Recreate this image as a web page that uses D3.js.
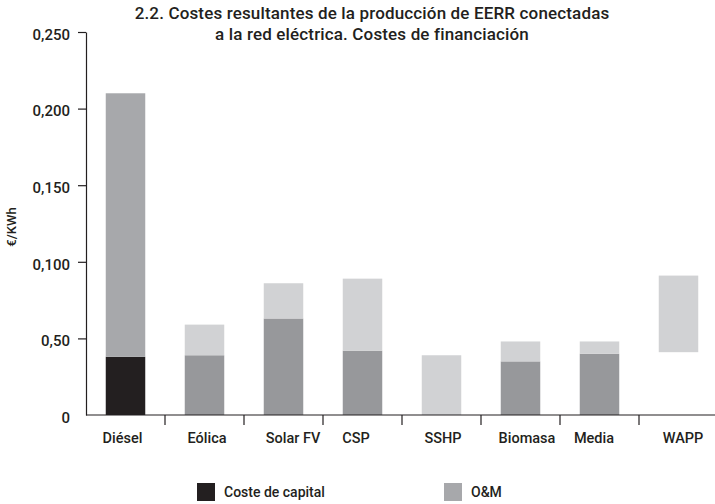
<!DOCTYPE html>
<html>
<head>
<meta charset="utf-8">
<script src="https://cdn.jsdelivr.net/npm/d3@7"></script>
<style>
  html, body { margin: 0; padding: 0; background: #fff; }
  svg text { font-family: Roboto, "Noto Sans", sans-serif; fill: #231f20; }
</style>
</head>
<body>
<svg id="chart" width="715" height="504"></svg>
<script>
// Technologies on the horizontal axis
const categories = ["Diésel", "Eólica", "Solar FV", "CSP", "SSHP", "Biomasa", "Media", "WAPP"];
// Lower segment (capital cost), €/KWh; null = not shown
const capital = [0.038, 0.039, 0.063, 0.042, 0, 0.035, 0.040, null];
// Upper segment start and end, €/KWh
const upperFrom = [0.038, 0.039, 0.063, 0.042, 0, 0.035, 0.040, 0.041];
const upperTo = [0.210, 0.059, 0.086, 0.089, 0.039, 0.048, 0.048, 0.091];
// Y axis ticks and their printed labels
const yTicks = [0, 0.05, 0.10, 0.15, 0.20, 0.25];
const yTickLabels = ["0", "0,50", "0,100", "0,150", "0,200", "0,250"];
const legendItems = ["Coste de capital", "O&M"];
const titleLines = ["2.2. Costes resultantes de la producción de EERR conectadas",
                    "a la red eléctrica. Costes de financiación"];

const svg = d3.select("#chart");
const ink = "#231f20";

const x = d3.scaleBand().domain(categories).range([86, 718]).paddingInner(0.5).paddingOuter(0.25);
const y = d3.scaleLinear().domain([0, 0.25]).range([415, 32]);

// Highlighted technology uses the dark palette, the rest the light one
const baseColor = c => c === "Diésel" ? "#231f20" : "#97989b";
const topColor = c => c === "Diésel" ? "#a7a8ab" : "#d1d2d4";

// Title
svg.append("g").selectAll("text").data(titleLines).join("text")
  .attr("x", 372).attr("y", (d, i) => 19 + i * 20.5)
  .attr("text-anchor", "middle")
  .attr("font-size", 17).attr("font-weight", 500)
  .attr("letter-spacing", 0.15)
  .text(d => d);

// Bars
const rows = categories.map((c, i) => ({ c, cap: capital[i], from: upperFrom[i], to: upperTo[i] }));
const bars = svg.append("g");
bars.selectAll("rect.cap").data(rows.filter(d => d.cap)).join("rect")
  .attr("class", "cap")
  .attr("x", d => x(d.c)).attr("width", x.bandwidth())
  .attr("y", d => y(d.cap)).attr("height", d => y(0) - y(d.cap))
  .attr("fill", d => baseColor(d.c));
bars.selectAll("rect.om").data(rows).join("rect")
  .attr("class", "om")
  .attr("x", d => x(d.c)).attr("width", x.bandwidth())
  .attr("y", d => y(d.to)).attr("height", d => y(d.from) - y(d.to))
  .attr("fill", d => topColor(d.c));

// Y axis
const yAxis = svg.append("g").attr("transform", "translate(86,0)")
  .call(d3.axisLeft(y).tickValues(yTicks).tickSize(8).tickSizeOuter(0)
    .tickFormat((d, i) => yTickLabels[i]));
yAxis.select(".domain").attr("stroke", ink).attr("stroke-width", 1.2);
yAxis.selectAll(".tick line").attr("stroke", ink).attr("stroke-width", 1.2)
  .filter(d => d === 0).remove();
yAxis.selectAll(".tick text").attr("font-size", 15).attr("font-weight", 500)
  .attr("fill", ink).attr("x", -16).attr("dy", "0.68em").attr("y", -3);

// X axis: baseline with ticks between categories
const xg = svg.append("g");
xg.append("line").attr("x1", 86).attr("x2", 715).attr("y1", y(0)).attr("y2", y(0))
  .attr("stroke", ink).attr("stroke-width", 1.2);
const step = x.step();
xg.selectAll("line.sep").data(categories.slice(1)).join("line")
  .attr("class", "sep")
  .attr("x1", d => x(d) - step * 0.25).attr("x2", d => x(d) - step * 0.25)
  .attr("y1", y(0)).attr("y2", y(0) + 10)
  .attr("stroke", ink).attr("stroke-width", 1.2);
const labelShift = { "Diésel": -3, "Eólica": 2.5, "Solar FV": 9.5, "CSP": -6.5,
                     "SSHP": 1.5, "Biomasa": 6.5, "Media": -5.5, "WAPP": 4.5 };
xg.selectAll("text").data(categories).join("text")
  .attr("x", d => x(d) + x.bandwidth() / 2 + labelShift[d])
  .attr("y", 443)
  .attr("text-anchor", "middle")
  .attr("font-size", 14.5).attr("font-weight", 500)
  .text(d => d);

// Y axis title
svg.append("text")
  .attr("transform", "translate(16,227) rotate(-90)")
  .attr("text-anchor", "middle")
  .attr("font-size", 13).attr("font-weight", 500)
  .text("€/KWh");

// Legend
const legendColors = ["#231f20", "#a7a8ab"];
const legendX = [197, 444];
const lg = svg.append("g").selectAll("g").data(legendItems).join("g")
  .attr("transform", (d, i) => `translate(${legendX[i]},483)`);
lg.append("rect").attr("width", 18).attr("height", 18).attr("fill", (d, i) => legendColors[i]);
lg.append("text").attr("x", 27).attr("y", 14)
  .attr("font-size", 14).attr("font-weight", 500).text(d => d);
</script>
</body>
</html>
